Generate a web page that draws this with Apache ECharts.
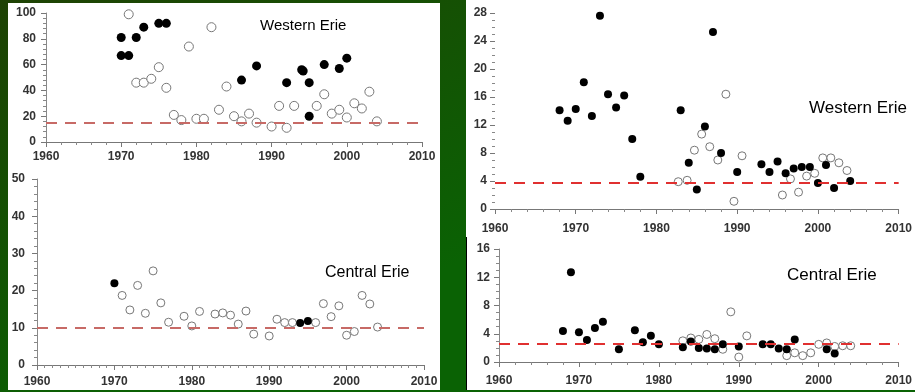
<!DOCTYPE html>
<html>
<head>
<meta charset="utf-8">
<script src="https://cdn.jsdelivr.net/npm/echarts@6/dist/echarts.min.js"></script>
<style>
  html, body { margin: 0; padding: 0; background: #0d4f05; }
  #chart { width: 915px; height: 392px; }
</style>
</head>
<body>
<div id="chart"></div>
<script>
// Western Erie (left, 0-100)
const wlFilled = [[1970,81],[1970,67],[1971,67],[1972,81],[1973,89],[1975,92],[1976,92],[1986,48],[1988,59],[1992,46],[1994,56],[1994.2,55],[1995,46],[1995,20],[1997,60],[1999,57],[2000,65]];
const wlHollow = [[1971,99],[1972,46],[1973,46],[1974,49],[1975,58],[1976,42],[1977,21],[1978,17],[1979,74],[1980,18],[1981,18],[1982,89],[1983,25],[1984,43],[1985,20],[1986,16],[1987,22],[1988,15],[1990,12],[1991,28],[1992,11],[1993,28],[1996,28],[1997,37],[1998,22],[1999,25],[2000,19],[2001,30],[2002,26],[2003,39],[2004,16]];
const wlTarget = 15;

// Central Erie (left, 0-50)
const clFilled = [[1970,22],[1994,11.3],[1995,11.8]];
const clHollow = [[1971,18.7],[1972,14.8],[1973,21.4],[1974,13.9],[1975,25.3],[1976,16.7],[1977,11.5],[1979,13.1],[1980,10.5],[1981,14.4],[1983,13.7],[1984,14],[1985,13.4],[1986,11],[1987,14.5],[1988,8.3],[1990,7.8],[1991,12.3],[1992,11.4],[1993,11.4],[1996,11.4],[1997,16.5],[1998,13],[1999,15.9],[2000,8],[2001,9],[2002,18.7],[2003,16.4],[2004,10.2]];
const clTarget = 10;

// Western Erie (right, 0-28)
const wrFilled = [[1968,14.1],[1969,12.6],[1970,14.3],[1971,18.1],[1972,13.3],[1973,27.6],[1974,16.4],[1975,14.5],[1976,16.2],[1977,10],[1978,4.6],[1983,14.1],[1984,6.6],[1985,2.8],[1986,11.8],[1987,25.3],[1988,8],[1990,5.3],[1993,6.4],[1994,5.3],[1995,6.8],[1996,5.1],[1997,5.8],[1998,6],[1999,6],[2000,3.7],[2001,6.3],[2002,3],[2004,4]];
const wrHollow = [[1982.7,3.9],[1983.8,4.1],[1984.7,8.4],[1985.6,10.7],[1986.6,8.9],[1987.6,7],[1988.6,16.4],[1989.6,1.1],[1990.6,7.6],[1995.6,2],[1996.6,4.3],[1997.6,2.4],[1998.6,4.7],[1999.6,5.1],[2000.6,7.3],[2001.6,7.3],[2002.6,6.6],[2003.6,5.5]];
const wrTarget = 3.8;

// Central Erie (right, 0-16)
const crFilled = [[1968,4.4],[1969,12.7],[1970,4.2],[1971,3.1],[1972,4.8],[1973,5.7],[1975,1.8],[1977,4.5],[1978,2.8],[1979,3.7],[1980,2.5],[1983,2.1],[1984,2.9],[1985,2],[1986,1.9],[1987,1.8],[1988,2.5],[1990,2.2],[1993,2.5],[1994,2.5],[1995,1.9],[1996,1.8],[1997,3.2],[2001,1.8],[2002,1.2]];
const crHollow = [[1983,3],[1984,3.4],[1985,3.2],[1986,3.9],[1987,3.3],[1988,1.8],[1989,7.1],[1990,0.7],[1991,3.7],[1996,0.9],[1997,1.3],[1998,0.9],[1999,1.3],[2000,2.5],[2001,2.7],[2002,2.2],[2003,2.3],[2004,2.3]];
const crTarget = 2.6;

const panels = [
  { grid: { left: 46, top: 13, width: 376, height: 129 }, yMax: 100, yStep: 20, yMinor: 5, xMinor: 5, xMargin: 9, yMargin: 10, yLine: true, filled: wlFilled, hollow: wlHollow, target: wlTarget, dash: "#c76a66", size: 9 },
  { grid: { left: 37, top: 179, width: 387, height: 186 }, yMax: 50, yStep: 10, yMinor: 5, xMinor: 10, xMargin: 11, yMargin: 12, yLine: true, filled: clFilled, hollow: clHollow, target: clTarget, dash: "#c76a66", size: 8 },
  { grid: { left: 495, top: 13, width: 413, height: 196 }, yMax: 28, yStep: 4, yMinor: 4, xMinor: 5, xMargin: 14, yMargin: 8, yLine: false, filled: wrFilled, hollow: wrHollow, target: wrTarget, dash: "#e03030", size: 8 },
  { grid: { left: 499, top: 249, width: 403, height: 113 }, yMax: 16, yStep: 4, yMinor: 4, xMinor: 5, xMargin: 13, yMargin: 9, yLine: true, filled: crFilled, hollow: crHollow, target: crTarget, dash: "#e03030", size: 8 }
];

const labelStyle = { color: "#333", fontWeight: "bold", fontSize: 12, fontFamily: "Liberation Sans, Arial" };

const chart = echarts.init(document.getElementById("chart"), null, { renderer: "canvas" });

const grids = panels.map(p => p.grid);
const xAxes = panels.map((p, i) => ({
  type: "value", gridIndex: i, min: 1960, max: 2010, interval: 10,
  axisLine: { lineStyle: { color: "#777", width: 1 } },
  axisTick: { length: 5, lineStyle: { color: "#777" } },
  minorTick: { show: true, splitNumber: p.xMinor, length: 3, lineStyle: { color: "#888" } },
  splitLine: { show: false },
  axisLabel: Object.assign({ margin: p.xMargin, formatter: v => String(v) }, labelStyle)
}));
const yAxes = panels.map((p, i) => ({
  type: "value", gridIndex: i, min: 0, max: p.yMax, interval: p.yStep,
  axisLine: { show: p.yLine, lineStyle: { color: "#888", width: 1 } },
  axisTick: { show: true, length: 5, lineStyle: { color: "#777" } },
  minorTick: { show: true, splitNumber: p.yMinor, length: 3, lineStyle: { color: "#888" } },
  splitLine: { show: false },
  axisLabel: Object.assign({ margin: p.yMargin }, labelStyle)
}));

const series = [];
panels.forEach((p, i) => {
  series.push({
    type: "scatter", xAxisIndex: i, yAxisIndex: i, data: p.hollow, symbolSize: p.size,
    itemStyle: { color: "#fff", borderColor: "#777", borderWidth: 1, opacity: 1 },
    markLine: {
      silent: true, symbol: "none", label: { show: false },
      lineStyle: { color: p.dash, type: [11, 8], width: 2 },
      data: [{ yAxis: p.target }]
    },
    z: 3
  });
  series.push({
    type: "scatter", xAxisIndex: i, yAxisIndex: i, data: p.filled, symbolSize: p.size,
    itemStyle: { color: "#000", opacity: 1 },
    z: 4
  });
});

chart.setOption({
  animation: false,
  backgroundColor: {
    type: "linear", x: 0, y: 0, x2: 0.2, y2: 1,
    colorStops: [{ offset: 0, color: "#1e4204" }, { offset: 1, color: "#0a6204" }]
  },
  graphic: [
    { type: "rect", shape: { x: 8, y: 3, width: 432, height: 387 }, style: { fill: "#fff" }, z: -10 },
    { type: "rect", shape: { x: 466, y: 0, width: 449, height: 390 }, style: { fill: "#fff" }, z: -10 },
    { type: "line", shape: { x1: 466.5, y1: 237, x2: 466.5, y2: 390 }, style: { stroke: "#000", lineWidth: 1 }, z: -9 },
    { type: "text", left: 260, top: 18, style: { text: "Western Erie", fontSize: 15, fill: "#000", fontFamily: "Liberation Sans, Arial" } },
    { type: "text", left: 325, top: 265, style: { text: "Central Erie", fontSize: 16, fill: "#000", fontFamily: "Liberation Sans, Arial" } },
    { type: "text", left: 809, top: 100, style: { text: "Western Erie", fontSize: 17, fill: "#000", fontFamily: "Liberation Sans, Arial" } },
    { type: "text", left: 787, top: 267, style: { text: "Central Erie", fontSize: 17, fill: "#000", fontFamily: "Liberation Sans, Arial" } }
  ],
  grid: grids,
  xAxis: xAxes,
  yAxis: yAxes,
  series: series
});
</script>
</body>
</html>
